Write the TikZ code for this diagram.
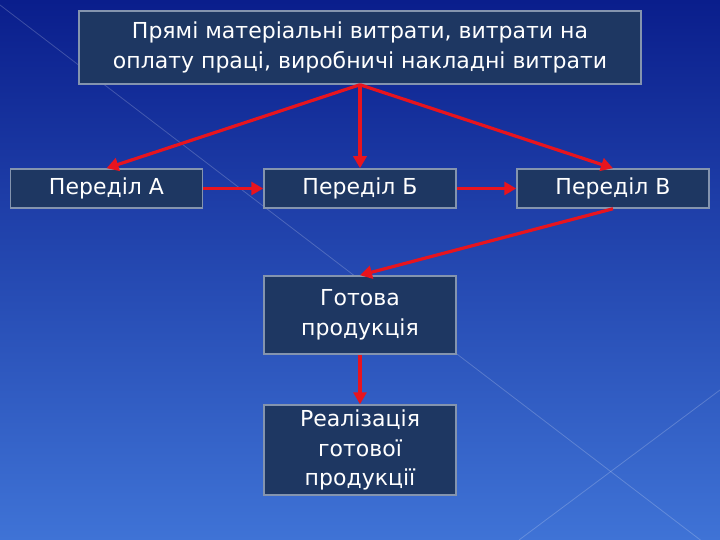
\documentclass[tikz,border=0pt]{standalone}
\usepackage{fontspec}
\setmainfont{DejaVu Sans}
\usetikzlibrary{arrows.meta}

\definecolor{bgtop}{HTML}{0A1E8C}
\definecolor{bgbottom}{HTML}{3F73D6}
\definecolor{boxfill}{HTML}{1E3762}
\definecolor{boxline}{HTML}{8494AE}
\definecolor{arrowred}{HTML}{E8141E}

\begin{document}
\begin{tikzpicture}[x=1pt, y=-1pt,
    box/.style={draw=boxline, line width=1.5pt, fill=boxfill, text=white,
        align=center, inner sep=0pt, minimum width=192pt,
        font=\fontsize{22}{29.5}\selectfont},
    link/.style={draw=arrowred, line width=3.2pt,
        -{Triangle[length=12pt,width=13pt]}}]
    % Background of the slide
    \useasboundingbox (0,0) rectangle (720,540);
    \shade[top color=bgtop, bottom color=bgbottom] (0,0) rectangle (720,540);
    \draw[white, opacity=0.2, line width=0.8pt] (0,5) -- (720,555);
    \draw[white, opacity=0.2, line width=0.8pt] (720,390) -- (519,540);

    % The boxes
    \node[box, minimum width=562pt, minimum height=73pt] (costs) at (360,47.5)
        {Прямі матеріальні витрати, витрати на\\оплату праці, виробничі накладні витрати};
    \node[box, minimum height=39pt] (shopA) at (106.5,188.5) {Переділ А};
    \node[box, minimum height=39pt] (shopB) at (360,188.5) {Переділ Б};
    \node[box, minimum height=39pt] (shopV) at (613,188.5) {Переділ В};
    \node[box, minimum height=78pt] (ready) at (360,315) {Готова\\продукція};
    \node[box, minimum height=90pt] (sale) at (360,450) {Реалізація\\готової\\продукції};

    % The arrows
    \draw[link] (costs.south) -- (shopA.north);
    \draw[link] (costs.south) -- (shopB.north);
    \draw[link] (costs.south) -- (shopV.north);
    \draw[link] (shopA) -- (shopB);
    \draw[link] (shopB) -- (shopV);
    \draw[link] (shopV.south) -- (ready.north);
    \draw[link] (ready) -- (sale);
\end{tikzpicture}
\end{document}
